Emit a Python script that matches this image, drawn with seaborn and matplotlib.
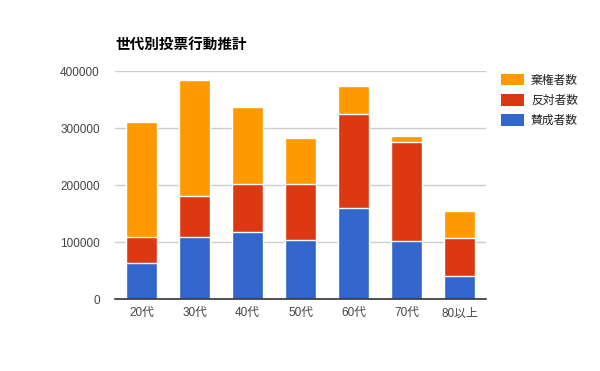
import numpy as np
import pandas as pd
import seaborn as sns
import matplotlib
matplotlib.use("Agg")
import matplotlib.pyplot as plt
from matplotlib.patches import Patch

# Data
ages = ['20代', '30代', '40代', '50代', '60代', '70代', '80以上']
yes_votes = [62600, 108200, 117000, 102900, 159100, 101200, 39800]      # 賛成者数
no_votes = [45600, 71900, 84200, 98300, 164900, 173700, 66600]          # 反対者数
abstain = [201800, 203500, 135000, 80500, 49000, 11800, 47300]          # 棄権者数

series_names = ['賛成者数', '反対者数', '棄権者数']
colors = ['#3366CC', '#DC3912', '#FF9900']

sns.set_theme(style="white")
plt.rcParams['font.family'] = ['Liberation Sans', 'Noto Sans CJK JP', 'DejaVu Sans']

df = pd.DataFrame({'age': ages, 'yes': yes_votes, 'no': no_votes, 'abstain': abstain})
df['cum_yes'] = df['yes']
df['cum_no'] = df['yes'] + df['no']
df['cum_all'] = df['cum_no'] + df['abstain']

fig = plt.figure(figsize=(6, 3.71), dpi=100)
ax = fig.add_axes([0.1917, 0.194, 0.6183, 0.6146])

# draw tallest cumulative first so lower segments sit on top
for col, c in [('cum_all', colors[2]), ('cum_no', colors[1]), ('cum_yes', colors[0])]:
    sns.barplot(data=df, x='age', y=col, color=c, width=0.6, ax=ax,
                edgecolor='white', linewidth=1, saturation=1, zorder=3)

ax.set_ylim(0, 400000)
ax.set_xlim(-0.5, len(ages) - 0.5)
ax.set_yticks([0, 100000, 200000, 300000, 400000])
ax.set_yticklabels(['0', '100000', '200000', '300000', '400000'])
ax.yaxis.grid(True, color='#cccccc', linewidth=1, zorder=0)
ax.set_axisbelow(True)
for s in ['top', 'right', 'left']:
    ax.spines[s].set_visible(False)
ax.spines['bottom'].set_color('#333333')
ax.spines['bottom'].set_linewidth(1.2)
ax.spines['bottom'].set_zorder(5)
ax.tick_params(axis='both', length=0, labelsize=8.5, labelcolor='#444444')
ax.tick_params(axis='y', pad=11)
ax.tick_params(axis='x', pad=6)
ax.set_xlabel('')
ax.set_ylabel('')

fig.text(0.1917, 0.88, '世代別投票行動推計', fontsize=10.5, fontweight='bold',
         color='#000000', ha='left', va='center')

handles = [Patch(facecolor=colors[i], edgecolor='none') for i in [2, 1, 0]]
labels = [series_names[i] for i in [2, 1, 0]]
fig.legend(handles, labels, loc='upper left', bbox_to_anchor=(0.818, 0.83),
           frameon=False, fontsize=8.5, handlelength=1.9, handleheight=1.15,
           handletextpad=0.6, labelspacing=0.62, labelcolor='#222222')

fig.savefig('out.png', dpi=100)
